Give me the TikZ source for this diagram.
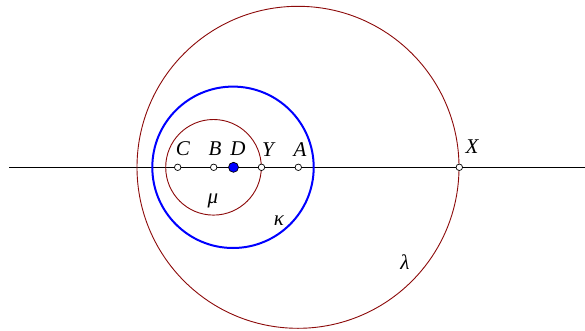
\documentclass[tikz,border=0pt]{standalone}
\usepackage{fontspec}
\setmainfont{Liberation Serif}
\definecolor{circred}{RGB}{140,10,10}
\begin{document}
\begin{tikzpicture}[x=1pt,y=-1pt,
  redcirc/.style={draw=circred,line width=0.9pt},
  bluecirc/.style={draw=blue,line width=2pt},
  pt/.style={circle,draw=black,fill=white,inner sep=0pt,minimum size=6.5pt,line width=0.7pt},
  bpt/.style={circle,draw=black,fill=blue,inner sep=0pt,minimum size=10pt,line width=0.7pt},
  lbl/.style={font=\fontsize{21}{23}\selectfont\itshape,inner sep=0pt}]
\useasboundingbox (0,0) rectangle (585,331);
\coordinate (L) at (9,167.3);
\coordinate (R) at (585,167.3);
\draw[line width=1.1pt] (L) -- (R);
\draw[redcirc] (298,167.3) circle (161);
\draw[redcirc] (213.5,167.3) circle (47.8);
\draw[bluecirc] (233,167.3) circle (80.7);
\node[pt] (C) at (177.7,167.3) {};
\node[pt] (B) at (213.7,167.3) {};
\node[bpt] (D) at (233.5,167.3) {};
\node[pt] (Y) at (261.5,167.3) {};
\node[pt] (A) at (298.3,167.3) {};
\node[pt] (X) at (459.3,167.3) {};
\node[lbl] (lC) at (183,149) {C};
\node[lbl] (lB) at (215,149) {B};
\node[lbl] (lD) at (238,149) {D};
\node[lbl] (lY) at (268,150) {Y};
\node[lbl] (lA) at (300,150) {A};
\node[lbl] (lX) at (472,147) {X};
\node[lbl] (lmu) at (213,201) {μ};
\node[lbl] (lka) at (279,221) {κ};
\node[lbl] (lla) at (405,262) {λ};
\end{tikzpicture}
\end{document}
